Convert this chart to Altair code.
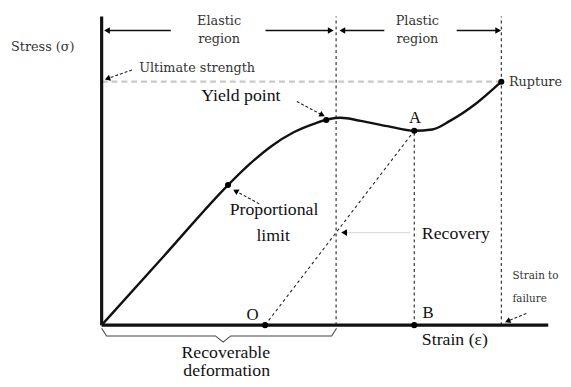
import math
import altair as alt
import pandas as pd

# ---------------- data (strain / stress units) ----------------
X_MAX, Y_MAX = 10.0, 10.0
W, H = 453, 313

# stress-strain curve
curve_strain = [0, 1.4, 2.83, 3.3, 3.8, 4.3, 4.8, 5.1, 5.35, 5.8, 6.4, 7.0, 7.4, 7.8, 8.4, 8.95]
curve_stress = [0, 2.25, 4.54, 5.2, 5.8, 6.25, 6.55, 6.68, 6.72, 6.62, 6.45, 6.30, 6.34, 6.62, 7.2, 7.89]

# marked points: proportional limit, yield point, A, rupture, O', B
pt_strain = [2.83, 5.03, 7.0, 8.95, 3.66, 7.0]
pt_stress = [4.54, 6.65, 6.30, 7.89, 0.0, 0.0]

# axes
axis_x1 = [0, 0]
axis_y1 = [0, 0]
axis_x2 = [10, 0]
axis_y2 = [0, 10]

# ultimate strength level
ult_x1, ult_x2, ult_y = [0.0], [8.95], [7.89]

# dashed guides: elastic/plastic boundary, rupture line, A-B drop, recovery line
guide_x1 = [5.25, 8.95, 7.0, 3.66]
guide_y1 = [0.0, 0.0, 0.0, 0.0]
guide_x2 = [5.25, 8.95, 7.0, 7.0]
guide_y2 = [10.0, 10.0, 6.30, 6.30]

# annotation arrows (from label -> to target)
ann_x1 = [0.68, 4.37, 3.53, 9.51]
ann_y1 = [8.27, 7.25, 3.93, 0.38]
ann_x2 = [0.13, 4.94, 3.00, 9.09]
ann_y2 = [7.99, 6.81, 4.35, 0.13]

# recovery pointer (faint)
rec_x1, rec_y1, rec_x2, rec_y2 = [6.91], [3.0], [5.43], [3.0]

# region span arrows at top
span_x1 = [1.55, 3.67, 6.33, 7.95]
span_y1 = [9.55, 9.55, 9.55, 9.55]
span_x2 = [0.12, 5.13, 5.39, 8.88]
span_y2 = [9.55, 9.55, 9.55, 9.55]

# brace under recoverable deformation
brace_x = [0.0, 0.11, 2.55, 2.72, 2.89, 5.15, 5.26]
brace_y = [-0.10, -0.35, -0.35, -0.55, -0.35, -0.35, -0.10]

# labels
big_labels = ["Yield point", "Proportional", "limit", "Recovery", "Strain (\u03b5)",
              "Recoverable", "deformation"]
big_x = [2.23, 3.86, 3.84, 7.17, 7.17, 2.78, 2.80]
big_y = [7.41, 3.74, 2.88, 2.94, -0.48, -0.90, -1.50]
big_align = ["left", "center", "center", "left", "left", "center", "center"]

letter_labels = ["A", "O", "B"]
letter_x = [7.02, 3.38, 7.31]
letter_y = [6.71, 0.32, 0.38]

small_labels = ["Stress (\u03c3)", "Ultimate strength", "Elastic", "region", "Plastic", "region",
                "Rupture"]
small_x = [-2.03, 0.84, 2.63, 2.63, 7.07, 7.07, 9.12]
small_y = [9.01, 8.33, 9.84, 9.27, 9.84, 9.27, 7.89]
small_align = ["left", "left", "center", "center", "center", "center", "left"]

fail_labels = ["Strain to", "failure"]
fail_x = [9.20, 9.20]
fail_y = [1.60, 0.86]

# ---------------- helpers ----------------
xs = alt.Scale(domain=[0, X_MAX], nice=False, zero=False)
ys = alt.Scale(domain=[0, Y_MAX], nice=False, zero=False)


def X(f="x"):
    return alt.X(f"{f}:Q", scale=xs, axis=None)


def Y(f="y"):
    return alt.Y(f"{f}:Q", scale=ys, axis=None)


def heading(x1, y1, x2, y2):
    dx = (x2 - x1) * W / X_MAX
    dy = -(y2 - y1) * H / Y_MAX
    return math.degrees(math.atan2(dx, -dy)) % 360


def seg_df(x1, y1, x2, y2):
    return pd.DataFrame({"x": x1, "y": y1, "x2": x2, "y2": y2})


def head_df(x1, y1, x2, y2):
    return pd.DataFrame({"x": x2, "y": y2,
                         "ang": [heading(a, b, c, d) for a, b, c, d in zip(x1, y1, x2, y2)]})


def rules(df, **kw):
    return alt.Chart(df).mark_rule(**kw).encode(x=X(), y=Y(), x2="x2:Q", y2="y2:Q")


def heads(df, size, color="black"):
    return alt.Chart(df).mark_point(shape="triangle-up", filled=True, size=size,
                                    color=color, opacity=1).encode(
        x=X(), y=Y(), angle=alt.Angle("ang:Q", scale=None))


def texts(lx, ly, lt, **kw):
    return (alt.Chart(pd.DataFrame({"x": lx, "y": ly, "t": lt}))
            .mark_text(baseline="middle", **kw)
            .encode(x=X(), y=Y(), text="t:N"))


SERIF = "Liberation Serif"
SERIF2 = "DejaVu Serif"

layers = []

# ultimate strength gray dashed
layers.append(rules(seg_df(ult_x1, ult_y, ult_x2, ult_y), color="#c9c9c9", strokeWidth=2.2,
                    strokeDash=[6, 4]))
# dashed guides
layers.append(rules(seg_df(guide_x1, guide_y1, guide_x2, guide_y2), color="#222",
                    strokeWidth=1.1, strokeDash=[3, 3]))
# axes
layers.append(rules(seg_df(axis_x1, axis_y1, axis_x2, axis_y2), color="#111", strokeWidth=3.2))
# curve
layers.append(alt.Chart(pd.DataFrame({"x": curve_strain, "y": curve_stress}))
              .mark_line(color="#111", strokeWidth=2.4, interpolate="monotone")
              .encode(x=X(), y=Y(), order=alt.Order("x:Q")))
# brace
layers.append(alt.Chart(pd.DataFrame({"x": brace_x, "y": brace_y, "o": list(range(len(brace_x)))}))
              .mark_line(color="#444", strokeWidth=1.1)
              .encode(x=X(), y=Y(), order="o:Q"))
# annotation arrows
layers.append(rules(seg_df(ann_x1, ann_y1, ann_x2, ann_y2), color="#222", strokeWidth=1.1,
                    strokeDash=[3, 2]))
layers.append(heads(head_df(ann_x1, ann_y1, ann_x2, ann_y2), 40))
# recovery pointer
layers.append(rules(seg_df(rec_x1, rec_y1, rec_x2, rec_y2), color="#dddddd", strokeWidth=1.2))
layers.append(heads(head_df(rec_x1, rec_y1, rec_x2, rec_y2), 45))
# span arrows
layers.append(rules(seg_df(span_x1, span_y1, span_x2, span_y2), color="#111", strokeWidth=1.6))
layers.append(heads(head_df(span_x1, span_y1, span_x2, span_y2), 45))
# points
layers.append(alt.Chart(pd.DataFrame({"x": pt_strain, "y": pt_stress}))
              .mark_point(shape="circle", filled=True, size=38, color="black", opacity=1)
              .encode(x=X(), y=Y()))

# texts
for al in ["left", "center"]:
    idx = [i for i, a in enumerate(big_align) if a == al]
    layers.append(texts([big_x[i] for i in idx], [big_y[i] for i in idx],
                        [big_labels[i] for i in idx],
                        font=SERIF, fontSize=18, color="#111", align=al))
    idx = [i for i, a in enumerate(small_align) if a == al]
    layers.append(texts([small_x[i] for i in idx], [small_y[i] for i in idx],
                        [small_labels[i] for i in idx],
                        font=SERIF2, fontSize=13, color="#333", align=al))

layers.append(texts(fail_x, fail_y, fail_labels, font=SERIF2, fontSize=10.5, color="#333",
                    align="left"))
layers.append(texts(letter_x, letter_y, letter_labels, font=SERIF, fontSize=17, color="#111",
                    align="center"))

chart = (alt.layer(*layers)
         .properties(width=W, height=H,
                     autosize=alt.AutoSizeParams(type="none"),
                     padding={"left": 95, "top": 6, "right": 15, "bottom": 58})
         .configure(background="white", view=alt.ViewConfig(stroke=None)))

chart.save("out.html", embed_options={"renderer": "svg", "actions": False})
